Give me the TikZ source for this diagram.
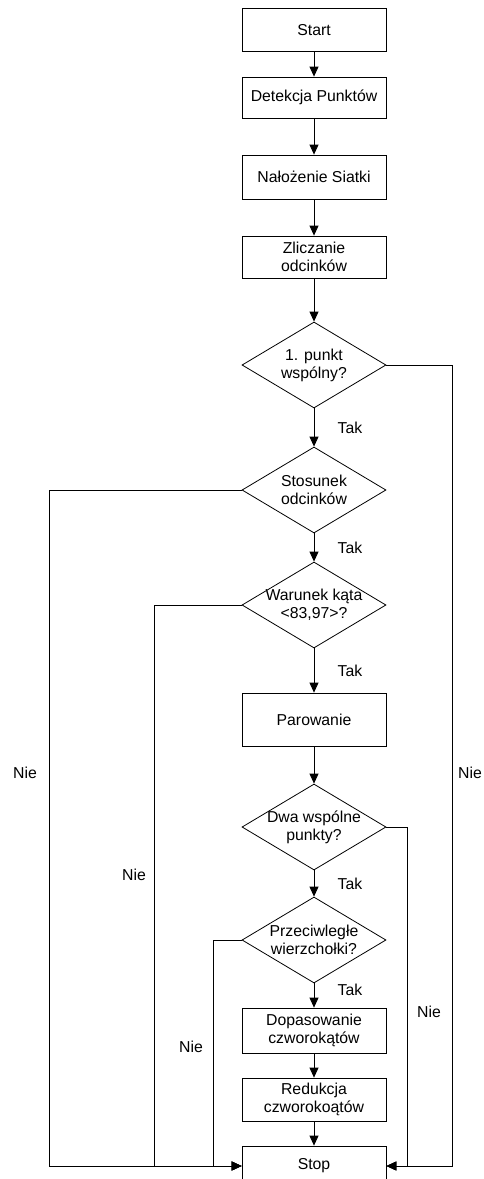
\documentclass[tikz,border=0pt]{standalone}
\usepackage{fontspec}
\setmainfont{Liberation Sans}
\usetikzlibrary{shapes.geometric, arrows.meta}

\tikzset{
  box/.style={draw, rectangle, minimum width=144pt, minimum height=43pt,
    inner sep=2pt, align=center, line width=0.8pt},
  test/.style={draw, diamond, minimum width=144pt, minimum height=86pt,
    inner sep=0pt, line width=0.8pt},
  flow/.style={-{Triangle[length=10pt, width=9pt]}, line width=0.8pt},
}

\begin{document}
\begin{tikzpicture}[x=1pt, y=-1pt, font=\fontsize{15.8}{18}\selectfont]
  \useasboundingbox (0,0) rectangle (484,1179);
  % === Glowna kolumna: bloki i decyzje ===
  \node[box] (start) at (314,30) {Start};
  \node[box, minimum height=41pt] (detekcja) at (314,97.5) {Detekcja Punktów};
  \node[box, minimum height=44pt] (siatka) at (314,177) {Nałożenie Siatki};
  \node[box, minimum height=42pt] (zliczanie) at (314,257) {Zliczanie\\odcinków};
  \node[test, label={[align=center]center:1. punkt\\wspólny?}] (punkt) at (314,365) {};
  \node[test, label={[align=center]center:Stosunek\\odcinków}] (stosunek) at (314,490) {};
  \node[test, label={[align=center]center:Warunek kąta\\<83,97>?}] (kat) at (314,605) {};
  \node[box, minimum height=53pt] (parowanie) at (314,719.5) {Parowanie};
  \node[test, label={[align=center]center:Dwa wspólne\\punkty?}] (dwa) at (314,827) {};
  \node[test, label={[align=center]center:Przeciwległe\\wierzchołki?}] (wierzch) at (314,940) {};
  \node[box, minimum height=45pt] (dopas) at (314,1030.5) {Dopasowanie\\czworokątów};
  \node[box] (redukcja) at (314,1099.5) {Redukcja\\czworokoątów};
  \node[box, minimum height=40pt] (stop) at (314,1166) {Stop};
  % strzalki w dol
  \draw[flow] (start) -- (detekcja);
  \draw[flow] (detekcja) -- (siatka);
  \draw[flow] (siatka) -- (zliczanie);
  \draw[flow] (zliczanie) -- (punkt);
  \draw[flow] (punkt) -- node[right=20pt] {Tak} (stosunek);
  \draw[flow] (stosunek) -- node[right=20pt] {Tak} (kat);
  \draw[flow] (kat) -- node[right=20pt] {Tak} (parowanie);
  \draw[flow] (parowanie) -- (dwa);
  \draw[flow] (dwa) -- node[right=20pt] {Tak} (wierzch);
  \draw[flow] (wierzch) -- node[pos=.25, right=20pt] {Tak} (dopas);
  \draw[flow] (dopas) -- (redukcja);
  \draw[flow] (redukcja) -- (stop);
  % === Galezie "Nie" do Stop ===
  \draw[flow] (stosunek.west) -- ++(-192,0) |- (stop.west);
  \draw[flow] (kat.west) -- ++(-87,0) |- (stop.west);
  \draw[flow] (wierzch.west) -- ++(-28,0) |- (stop.west);
  \draw[flow] (punkt.east) -- ++(66,0) |- (stop.east);
  \draw[flow] (dwa.east) -- ++(21,0) |- (stop.east);
  \node (nie1) at (25,773) {Nie};
  \node (nie2) at (134,875) {Nie};
  \node (nie3) at (191,1047) {Nie};
  \node (nie4) at (470,773) {Nie};
  \node (nie5) at (429,1012) {Nie};
\end{tikzpicture}
\end{document}
